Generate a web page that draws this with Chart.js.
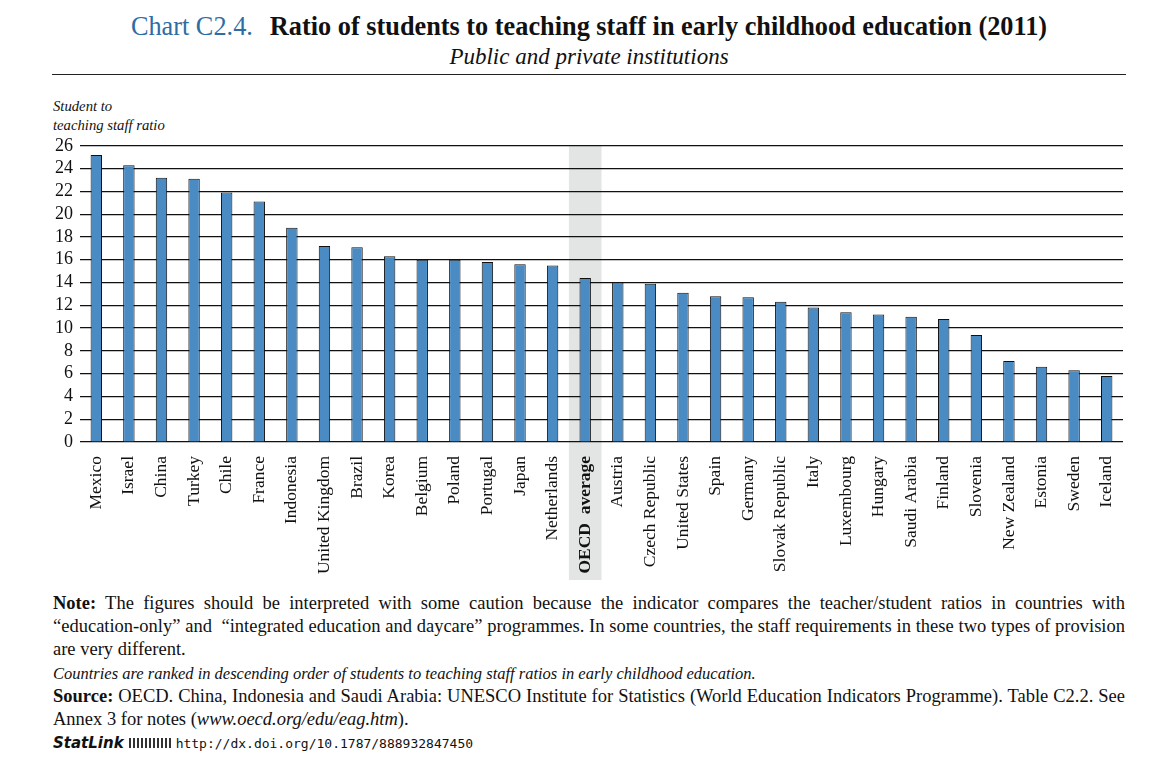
<!DOCTYPE html>
<html>
<head>
<meta charset="utf-8">
<script src="https://cdn.jsdelivr.net/npm/chart.js@4.4.1/dist/chart.umd.min.js"></script>
<style>
  html, body { margin: 0; padding: 0; background: #fff; }
  #page { position: relative; width: 1149px; height: 776px; overflow: hidden; font-family: "Liberation Serif", serif; color: #111; }
  #title { position: absolute; left: 0; width: 1178px; top: 12px; text-align: center; font-size: 26.3px; font-weight: bold; white-space: nowrap; }
  #title .num { color: #2e6da4; font-weight: normal; margin-right: 17px; }
  #subtitle { position: absolute; left: 0; width: 1178px; top: 44px; text-align: center; font-size: 23px; font-style: italic; white-space: nowrap; }
  #rule { position: absolute; left: 52px; width: 1074px; top: 74px; height: 0; border-top: 1.5px solid #222; }
  #ytitle { position: absolute; left: 53px; top: 97px; font-size: 14.7px; font-style: italic; line-height: 19px; }
  #wrap { position: absolute; left: 0; top: 128px; width: 1149px; height: 454px; }
  #notes { position: absolute; left: 53px; width: 1072px; top: 592px; font-size: 18.5px; line-height: 23.2px; }
  .j { text-align: justify; text-align-last: justify; white-space: nowrap; }
  .l { white-space: nowrap; }
  .it { font-style: italic; font-size: 16.5px; }
  #stat { font-family: "DejaVu Sans", sans-serif; font-weight: bold; font-style: italic; font-size: 15px; }
  #url { font-family: "DejaVu Sans Mono", monospace; font-size: 13px; }
  .icon { display: inline-block; width: 42px; height: 10px; margin: 0 5px 0 5px; background: repeating-linear-gradient(90deg, #333 0 2px, #fff 2px 4px); vertical-align: 0px; }
</style>
</head>
<body>
<div id="page">
  <div id="title"><span class="num">Chart C2.4.</span>Ratio of students to teaching staff in early childhood education (2011)</div>
  <div id="subtitle">Public and private institutions</div>
  <div id="rule"></div>
  <div id="ytitle">Student to<br>teaching staff ratio</div>
  <div id="wrap"><canvas id="c"></canvas></div>
  <div id="notes">
    <div class="j"><b>Note:</b> The figures should be interpreted with some caution because the indicator compares the teacher/student ratios in countries with</div>
    <div class="j">“education-only” and&nbsp; “integrated education and daycare” programmes. In some countries, the staff requirements in these two types of provision</div>
    <div class="l">are very different.</div>
    <div class="l it">Countries are ranked in descending order of students to teaching staff ratios in early childhood education.</div>
    <div class="j"><b>Source:</b> OECD. China, Indonesia and Saudi Arabia: UNESCO Institute for Statistics (World Education Indicators Programme). Table C2.2. See</div>
    <div class="l">Annex 3 for notes (<i>www.oecd.org/edu/eag.htm</i>).</div>
    <div class="l"><span id="stat">StatLink</span><span class="icon"></span><span id="url">http://dx.doi.org/10.1787/888932847450</span></div>
  </div>
</div>
<script>
const countries = ["Mexico","Israel","China","Turkey","Chile","France","Indonesia","United Kingdom","Brazil","Korea","Belgium","Poland","Portugal","Japan","Netherlands","OECD  average","Austria","Czech Republic","United States","Spain","Germany","Slovak Republic","Italy","Luxembourg","Hungary","Saudi Arabia","Finland","Slovenia","New Zealand","Estonia","Sweden","Iceland"];
const ratios = [25.2,24.3,23.2,23.1,21.9,21.1,18.8,17.2,17.1,16.3,16.0,16.0,15.8,15.6,15.5,14.4,14.0,13.9,13.1,12.8,12.7,12.3,11.8,11.4,11.2,11.0,10.8,9.4,7.1,6.6,6.3,5.8];
const yTicks = [0,2,4,6,8,10,12,14,16,18,20,22,24,26];
const highlightLabel = "OECD  average";
const hiIndex = countries.indexOf(highlightLabel);

const bandPlugin = {
  id: 'band',
  beforeDraw(chart) {
    const x = chart.scales.x;
    const ctx = chart.ctx;
    const w = (x.getPixelForValue(1) - x.getPixelForValue(0));
    const cx = x.getPixelForValue(hiIndex);
    ctx.save();
    ctx.fillStyle = '#e3e4e4';
    ctx.fillRect(cx - w / 2, chart.chartArea.top, w, chart.height - chart.chartArea.top - 2);
    ctx.restore();
  }
};

new Chart(document.getElementById('c'), {
  type: 'bar',
  data: {
    labels: countries,
    datasets: [{
      data: ratios,
      backgroundColor: '#4a8bc4',
      borderColor: '#111',
      borderWidth: 1,
      barPercentage: 0.35,
      categoryPercentage: 1.0
    }]
  },
  options: {
    responsive: true,
    maintainAspectRatio: false,
    animation: false,
    layout: { padding: { left: 0, right: 26, top: 12, bottom: 0 } },
    plugins: { legend: { display: false }, tooltip: { enabled: false } },
    scales: {
      x: {
        grid: { display: false },
        border: { display: false },
        ticks: {
          autoSkip: false, maxRotation: 90, minRotation: 90, padding: 6,
          color: '#111',
          font: (c) => ({ family: 'Liberation Serif', size: 17.5, weight: c.index === hiIndex ? 'bold' : 'normal' })
        },
        afterFit(s) { s.height = 140; }
      },
      y: {
        min: 0, max: 26,
        afterBuildTicks(s) { s.ticks = yTicks.map(v => ({ value: v })); },
        grid: { color: '#111', lineWidth: 1.2, drawTicks: false },
        border: { display: false },
        ticks: { autoSkip: false, color: '#111', padding: 7, font: { family: 'Liberation Serif', size: 18 } },
        afterFit(s) { s.width = 80; }
      }
    }
  },
  plugins: [bandPlugin]
});
</script>
</body>
</html>
